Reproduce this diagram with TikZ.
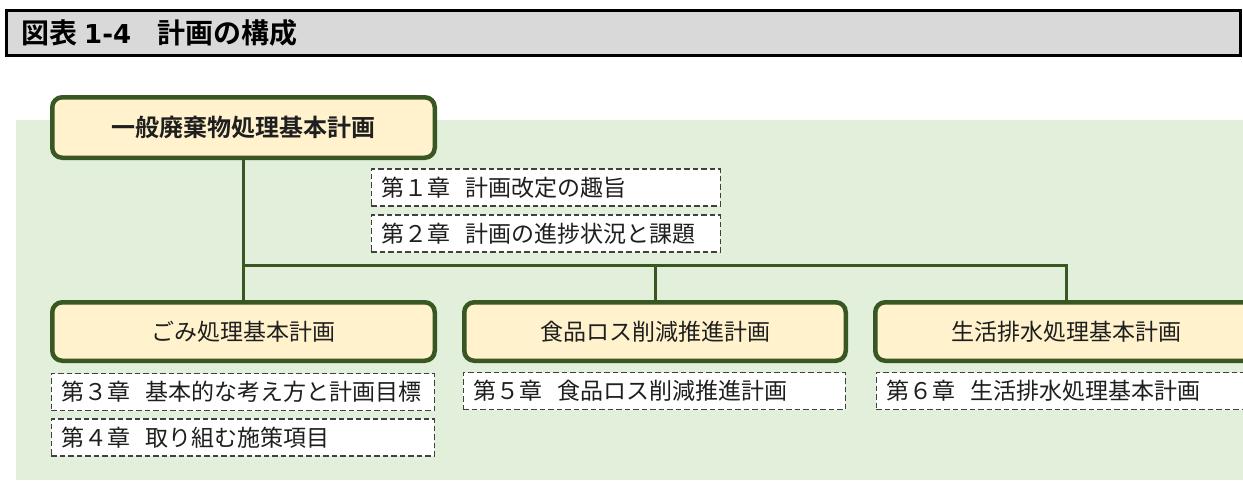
\documentclass[tikz,border=0pt]{standalone}
\usepackage{fontspec}
\newfontfamily\jp[BoldFont={Noto Sans CJK JP Bold}]{Noto Sans CJK JP}
\newfontfamily\lat{DejaVu Sans}
\usetikzlibrary{calc}
\definecolor{bggreen}{HTML}{E2EFDA}
\definecolor{dkgreen}{HTML}{385723}
\definecolor{cream}{HTML}{FFF2CC}
\definecolor{titlegray}{HTML}{D9D9D9}
\definecolor{dashgray}{HTML}{404040}
\definecolor{txt}{HTML}{1F1F1F}
\newcommand{\chgap}{\hspace{15pt}}
\begin{document}
\begin{tikzpicture}[x=1pt,y=-1pt,
  planbox/.style={draw=dkgreen, line width=4.5pt, fill=cream, rounded corners=10pt,
    text=txt, inner sep=0pt, minimum width=382.5pt},
  chapbox/.style={draw=dashgray, line width=1.2pt, dash pattern=on 5.5pt off 3pt,
    fill=white, anchor=west, align=left, inner xsep=10pt, inner ysep=0pt,
    minimum height=37pt, text=txt, font=\jp\fontsize{23}{27}\selectfont},
  conn/.style={draw=dkgreen, line width=3pt}]
\useasboundingbox (0,0) rectangle (1243,480);
\clip (0,0) rectangle (1243,480);
% background panel
\path[fill=bggreen] (16,120) rectangle (1243,480);
% title bar
\node[draw=black, line width=3pt, fill=titlegray, minimum width=1234pt,
  minimum height=45pt, inner sep=0pt] (titlebar) at (623.5,33) {};
\node[anchor=west, inner sep=0pt, text=black,
  font=\jp\bfseries\fontsize{28}{32}\selectfont] (titletext) at (21,33)
  {図表\hspace{7pt}{\lat\bfseries\fontsize{26}{30}\selectfont 1-4}\hspace{26pt}計画の構成};
% plan boxes
\node[planbox, minimum height=60.5pt, font=\jp\bfseries\fontsize{24}{28}\selectfont]
  (top) at (243.5,127.5) {一般廃棄物処理基本計画};
\node[planbox, minimum height=58.5pt, font=\jp\fontsize{23}{27}\selectfont]
  (a) at (243.5,331.5) {ごみ処理基本計画};
\node[planbox, minimum height=58.5pt, minimum width=381.5pt, font=\jp\fontsize{23}{27}\selectfont]
  (b) at (655,331.5) {食品ロス削減推進計画};
\node[planbox, minimum height=58.5pt, font=\jp\fontsize{23}{27}\selectfont]
  (c) at (1066.5,331.5) {生活排水処理基本計画};
% connectors
\coordinate (bus) at (0,265);
\draw[conn] (top.south) -- (top.south |- bus) -| (c.north);
\draw[conn] (top.south |- bus) -- (a.north);
\draw[conn] (b.north |- bus) -- (b.north);
% chapter boxes
\node[chapbox, text width=329pt] (ch1) at (370.6,187.5) {第１章\chgap 計画改定の趣旨};
\node[chapbox, text width=329pt] (ch2) at (370.6,233.5) {第２章\chgap 計画の進捗状況と課題};
\node[chapbox, text width=363pt] (ch3) at (50.6,392) {第３章\chgap 基本的な考え方と計画目標};
\node[chapbox, text width=363pt] (ch4) at (50.6,437.5) {第４章\chgap 取り組む施策項目};
\node[chapbox, text width=362pt] (ch5) at (462.6,391) {第５章\chgap 食品ロス削減推進計画};
\node[chapbox, text width=363pt] (ch6) at (875.6,391) {第６章\chgap 生活排水処理基本計画};
\end{tikzpicture}
\end{document}
